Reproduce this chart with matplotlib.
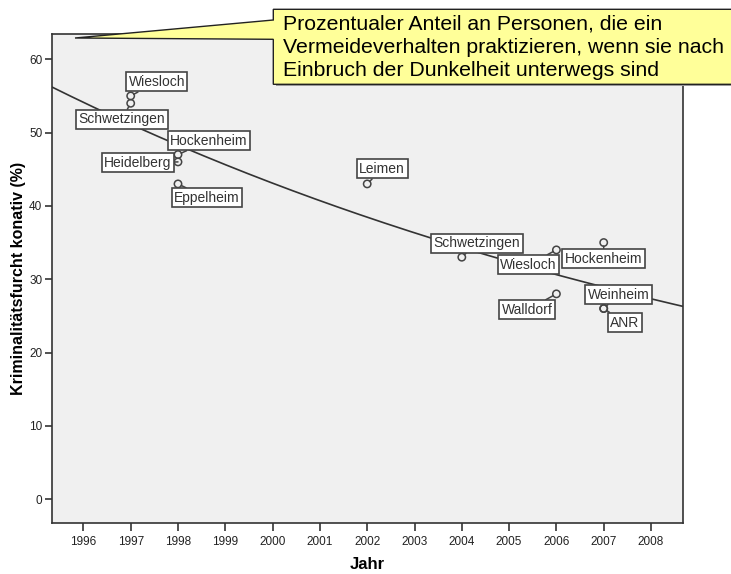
import numpy as np
import matplotlib
matplotlib.use("Agg")
import matplotlib.pyplot as plt
from matplotlib.patches import Polygon

plt.rcParams['font.family'] = ['Liberation Sans', 'DejaVu Sans']

# data
orte = ['Wiesloch', 'Schwetzingen', 'Hockenheim', 'Heidelberg', 'Eppelheim',
        'Leimen', 'Schwetzingen', 'Wiesloch', 'Hockenheim', 'Walldorf',
        'Weinheim', 'ANR']
jahre = [1997, 1997, 1998, 1998, 1998, 2002, 2004, 2006, 2007, 2006, 2007, 2007]
furcht = [55, 54, 47, 46, 43, 43, 33, 34, 35, 28, 26, 26]

year_ticks = list(range(1996, 2009))
y_ticks = [0, 10, 20, 30, 40, 50, 60]

callout_text = ("Prozentualer Anteil an Personen, die ein\n"
                "Vermeideverhalten praktizieren, wenn sie nach\n"
                "Einbruch der Dunkelheit unterwegs sind")

# label box offsets from each point, in pixels (x right, y up)
label_offsets = [(26, 14), (-9, -16), (31, 14), (-40, -1), (29, -14),
                 (15, 15), (15, 14), (-28, -15), (0, -16), (-29, -16),
                 (15, 14), (21, -14)]

W, H = 731, 574
fig = plt.figure(figsize=(W / 100, H / 100), dpi=100)
ax = fig.add_axes([51.7 / W, 1 - 523.3 / H, (682.7 - 51.7) / W, (523.3 - 34) / H])
ax.set_facecolor('#F0F0F0')

ax.set_xlim(1995.33, 2008.67)
ax.set_ylim(-3.3, 63.45)

# exponential fit (SPSS curve estimation style)
x = np.array(jahre, dtype=float)
y = np.array(furcht, dtype=float)
b, a = np.polyfit(x - 2000, np.log(y), 1)
xs = np.linspace(1995.33, 2008.67, 200)
ax.plot(xs, np.exp(a + b * (xs - 2000)), color='#333333', lw=1.2, zorder=2)

ax.scatter(jahre, furcht, s=28, facecolors='none', edgecolors='#444444',
           linewidths=1.1, zorder=3)

for name, xx, yy, off in zip(orte, jahre, furcht, label_offsets):
    ax.annotate(name, xy=(xx, yy), xytext=off, textcoords='offset pixels',
                ha='center', va='center', fontsize=10, color='#333333',
                bbox=dict(boxstyle='square,pad=0.18', fc='white', ec='#444444', lw=1.2),
                arrowprops=dict(arrowstyle='-', color='#444444', lw=1.1,
                                shrinkA=0, shrinkB=2.5),
                zorder=4)

ax.set_xticks(year_ticks)
ax.set_yticks(y_ticks)
ax.tick_params(direction='out', width=1.2, colors='#333333',
               labelsize=8.5, labelcolor='#222222')
ax.tick_params(axis='x', length=6, pad=3.5)
ax.tick_params(axis='y', length=5.3, pad=1.5)
for s in ax.spines.values():
    s.set_color('#333333')
    s.set_linewidth(1.2)

ax.set_xlabel('Jahr', fontsize=12, fontweight='bold', labelpad=6)
ax.set_ylabel('Kriminalitätsfurcht konativ (%)', fontsize=11.5, fontweight='bold', labelpad=2)


def px(xp, yp):
    return (xp / W, 1 - yp / H)


shadow = Polygon([px(275.5, 11.5), px(735, 11.5), px(735, 86.3), px(275.5, 86.3)],
                 closed=True, transform=fig.transFigure, fc='#999999', ec='none',
                 zorder=9)
fig.patches.append(shadow)
callout = Polygon([px(273.3, 9.3), px(735, 9.3), px(735, 84.3), px(273.3, 84.3),
                   px(273.3, 39.3), px(75, 38), px(273.3, 20)],
                  closed=True, transform=fig.transFigure, fc='#FFFF99',
                  ec='#222222', lw=1.0, zorder=10)
fig.patches.append(callout)
fig.text(283 / W, 1 - 47.5 / H, callout_text, ha='left', va='center',
         fontsize=15.3, linespacing=1.3, color='black', zorder=11)

fig.savefig('out.png', dpi=100)
